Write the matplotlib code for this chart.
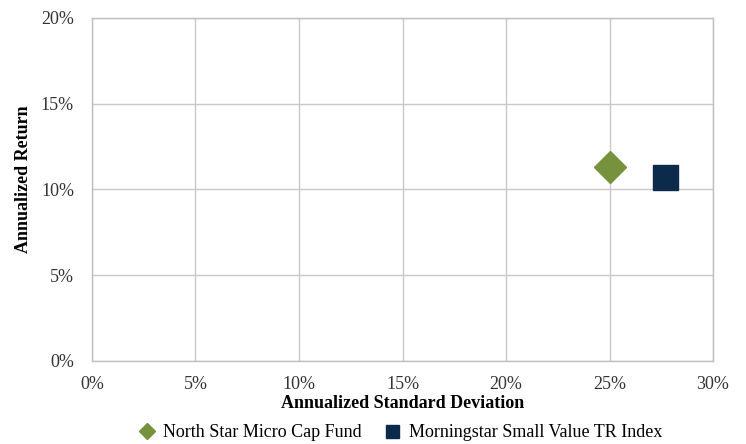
import matplotlib.pyplot as plt
from matplotlib.ticker import FuncFormatter

plt.rcParams['font.family'] = ['Liberation Serif', 'DejaVu Serif']

names = ["North Star Micro Cap Fund", "Morningstar Small Value TR Index"]
std_dev = [25.0, 27.7]
returns = [11.3, 10.7]
markers = ["D", "s"]
colors = ["#77923c", "#0c2b4b"]
sizes = [16, 18]

fig = plt.figure(figsize=(7.46, 4.44), dpi=100)
ax = fig.add_axes([0.1233, 0.187, 0.8325, 0.7725])

for n, x, y, m, c, s in zip(names, std_dev, returns, markers, colors, sizes):
    ax.plot([x], [y], linestyle="none", marker=m, color=c, markersize=s,
            label=n, zorder=3)

ax.set_xlim(0, 30)
ax.set_ylim(0, 20)
ax.set_xticks(range(0, 31, 5))
ax.set_yticks(range(0, 21, 5))
pct = FuncFormatter(lambda v, p: "%d%%" % v)
ax.xaxis.set_major_formatter(pct)
ax.yaxis.set_major_formatter(pct)
ax.grid(True, color="#c8c8c8", linewidth=1)
ax.set_axisbelow(True)
for sp in ax.spines.values():
    sp.set_color("#bfbfbf")
    sp.set_linewidth(1)
ax.tick_params(length=0, labelsize=13, colors="#333333")
ax.tick_params(axis="x", pad=11)
ax.tick_params(axis="y", pad=13)

ax.set_xlabel("Annualized Standard Deviation", fontsize=13, fontweight="bold", labelpad=1)
ax.set_ylabel("Annualized Return", fontsize=13, fontweight="bold", labelpad=6)
ax.yaxis.label.set_y(0.53)

h, l = ax.get_legend_handles_labels()
fig.legend(h, l, loc="center", bbox_to_anchor=(0.536, 0.025), ncol=2,
           frameon=False, fontsize=13, markerscale=0.52,
           handletextpad=0.4, columnspacing=1.2, handlelength=1.0)

fig.savefig("out.png", dpi=100)
